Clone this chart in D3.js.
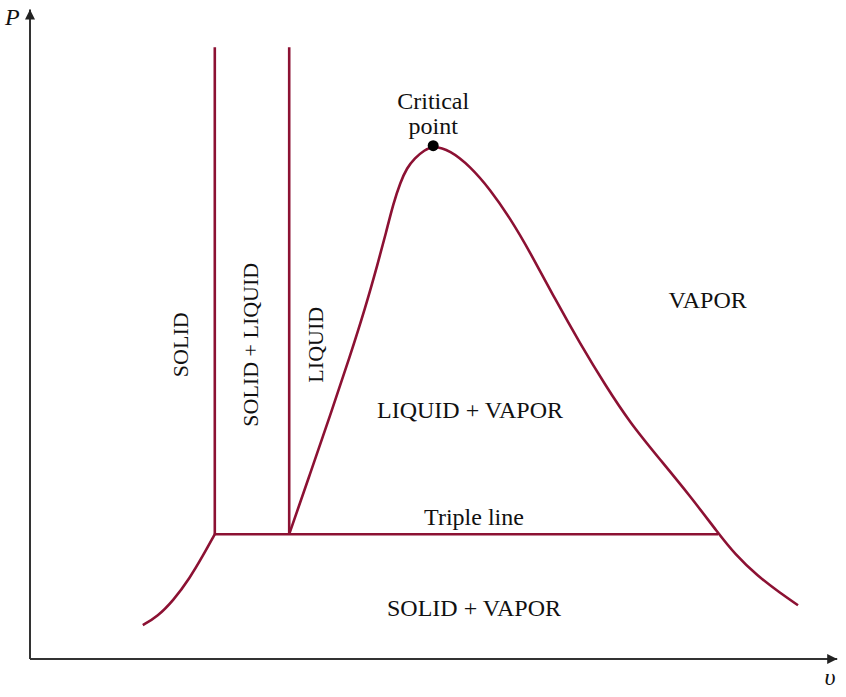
<!DOCTYPE html>
<html>
<head>
<meta charset="utf-8">
<script src="https://cdn.jsdelivr.net/npm/d3@7"></script>
<style>
  html, body { margin: 0; padding: 0; background: #fff; }
  svg { display: block; }
  text { font-family: "Liberation Serif", "Times New Roman", serif; fill: #111; }
</style>
</head>
<body>
<svg id="chart" width="846" height="697"></svg>
<script>
// P-v diagram of a substance that contracts on freezing
// values in arbitrary units (v along x, P along y)

const sublimationV = [1.41, 1.59, 1.79, 2.00, 2.16, 2.31];
const sublimationP = [0.53, 0.66, 0.91, 1.27, 1.61, 1.95];

const satLiquidV = [3.24, 3.50, 3.75, 4.00, 4.19, 4.35, 4.45, 4.54, 4.63, 4.71, 4.81, 4.93, 5.04];
const satLiquidP = [1.95, 2.89, 3.80, 4.73, 5.48, 6.19, 6.66, 7.11, 7.45, 7.67, 7.83, 7.95, 8.02];

const satVaporV = [5.04, 5.25, 5.50, 5.75, 6.00, 6.25, 6.56, 6.88, 7.19, 7.50, 7.88, 8.25, 8.60, 8.81, 9.09, 9.38, 9.60];
const satVaporP = [8.02, 7.95, 7.70, 7.34, 6.89, 6.36, 5.63, 4.92, 4.28, 3.69, 3.11, 2.55, 1.97, 1.64, 1.30, 1.03, 0.84];

const meltingV = [2.31, 3.24];   // solid / liquid boundaries
const meltingTopP = 9.56;
const tripleP = 1.95;
const tripleV = [2.31, 8.60];
const criticalPoint = [5.04, 8.02];

const regionLabels = [
  { text: 'SOLID', v: 1.88, P: 4.91, rotate: true },
  { text: 'SOLID + LIQUID', v: 2.75, P: 4.91, rotate: true },
  { text: 'LIQUID', v: 3.56, P: 4.91, rotate: true },
  { text: 'LIQUID + VAPOR', v: 5.50, P: 3.89 },
  { text: 'VAPOR', v: 8.47, P: 5.61 },
  { text: 'Triple line', v: 5.55, P: 2.22 },
  { text: 'SOLID + VAPOR', v: 5.55, P: 0.80 },
  { text: 'Critical', v: 5.04, P: 8.73 },
  { text: 'point', v: 5.04, P: 8.34 }
];

const svg = d3.select('#chart');
const curveColor = '#8c1133';

const x = d3.scaleLinear().domain([0, 10]).range([30, 830]);
const y = d3.scaleLinear().domain([0, 10]).range([659, 19]);

// arrow heads
const defs = svg.append('defs');
defs.append('marker')
  .attr('id', 'arrow')
  .attr('viewBox', '0 0 10 10')
  .attr('refX', 10).attr('refY', 5)
  .attr('markerWidth', 14).attr('markerHeight', 10)
  .attr('markerUnits', 'userSpaceOnUse')
  .attr('orient', 'auto')
  .append('path')
  .attr('d', 'M0,0 L10,5 L0,10 Z')
  .attr('fill', '#222');

// axes (no ticks)
svg.append('line')
  .attr('x1', x(0)).attr('y1', y(0))
  .attr('x2', x(0)).attr('y2', y(10.15))
  .attr('stroke', '#333').attr('stroke-width', 2)
  .attr('marker-end', 'url(#arrow)');

svg.append('line')
  .attr('x1', x(0)).attr('y1', y(0))
  .attr('x2', x(10.09)).attr('y2', y(0))
  .attr('stroke', '#333').attr('stroke-width', 2)
  .attr('marker-end', 'url(#arrow)');

svg.append('text')
  .attr('x', x(-0.22)).attr('y', y(9.9))
  .attr('text-anchor', 'middle')
  .style('font-style', 'italic')
  .style('font-size', '24px')
  .text('P');

svg.append('text')
  .attr('x', x(10.0)).attr('y', y(-0.4))
  .attr('text-anchor', 'middle')
  .style('font-style', 'italic')
  .style('font-size', '24px')
  .text('υ');

const line = d3.line()
  .x(d => x(d[0]))
  .y(d => y(d[1]))
  .curve(d3.curveBasis);

const zip = (a, b) => a.map((v, i) => [v, b[i]]);

// saturation dome: liquid branch up to the critical point, vapour branch down
const dome = zip(satLiquidV, satLiquidP).concat(zip(satVaporV, satVaporP).slice(1));
const curves = [zip(sublimationV, sublimationP), dome];

svg.selectAll('.sat-curve')
  .data(curves)
  .enter().append('path')
  .attr('class', 'sat-curve')
  .attr('d', line)
  .attr('fill', 'none')
  .attr('stroke', curveColor)
  .attr('stroke-width', 2.6);

// melting lines
svg.selectAll('.melt-line')
  .data(meltingV)
  .enter().append('line')
  .attr('class', 'melt-line')
  .attr('x1', d => x(d)).attr('x2', d => x(d))
  .attr('y1', y(tripleP)).attr('y2', y(meltingTopP))
  .attr('stroke', curveColor)
  .attr('stroke-width', 2.6);

// triple line
svg.append('line')
  .attr('x1', x(tripleV[0])).attr('x2', x(tripleV[1]))
  .attr('y1', y(tripleP)).attr('y2', y(tripleP))
  .attr('stroke', curveColor)
  .attr('stroke-width', 2.6);

svg.append('circle')
  .attr('cx', x(criticalPoint[0]))
  .attr('cy', y(criticalPoint[1]))
  .attr('r', 5.5)
  .attr('fill', '#000');

svg.selectAll('.region-label')
  .data(regionLabels)
  .enter().append('text')
  .attr('class', 'region-label')
  .attr('transform', d => `translate(${x(d.v)},${y(d.P)})` + (d.rotate ? ' rotate(-90)' : ''))
  .attr('dy', '0.35em')
  .attr('text-anchor', 'middle')
  .style('font-size', d => d.rotate ? '22px' : '24px')
  .text(d => d.text);
</script>
</body>
</html>
